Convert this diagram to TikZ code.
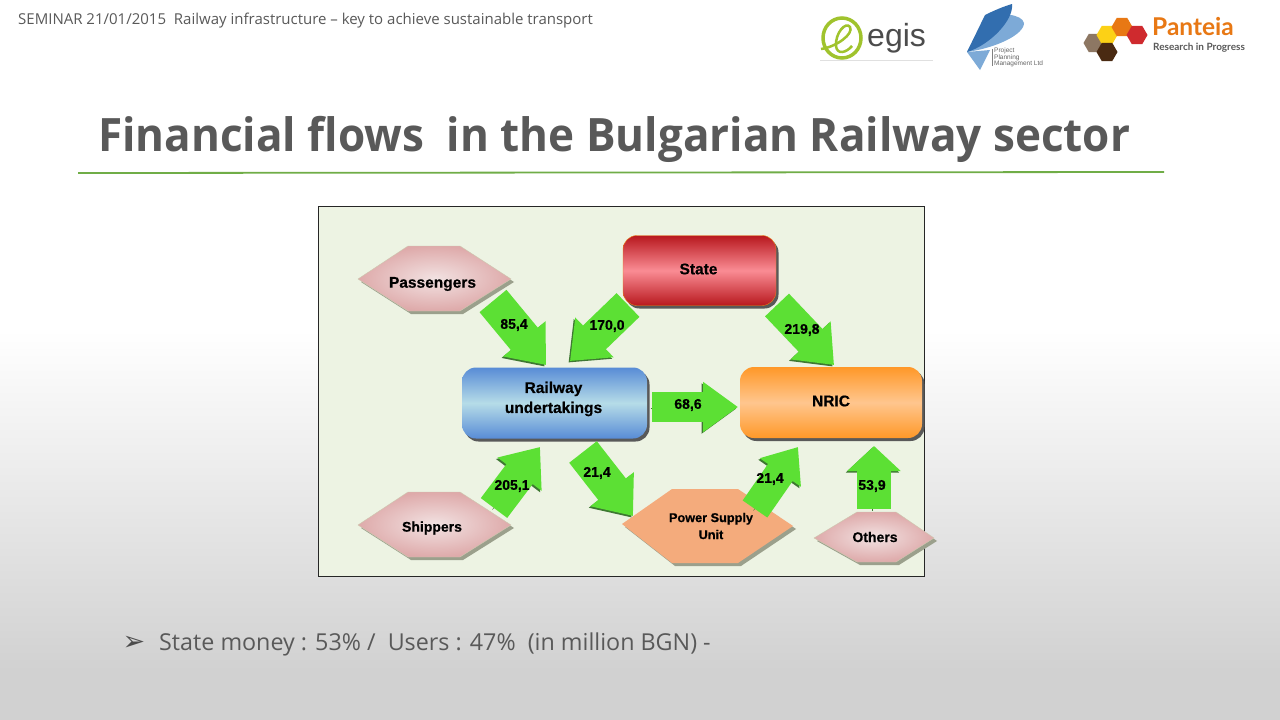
\documentclass[tikz,border=0pt]{standalone}
\usepackage{fontspec}
\setmainfont{Open Sans}
\newfontfamily\titlefont[FakeStretch=0.957]{Open Sans}
\newfontfamily\diagfont[BoldFeatures={FakeBold=0.5}]{Liberation Sans}
\newfontfamily\symfont{DejaVu Sans}
\newfontfamily\logofont{Lato}
\usepackage{xcolor}
\usetikzlibrary{arrows.meta, shadows}
\definecolor{titlegray}{RGB}{89, 89, 89}
\definecolor{rulegreen}{RGB}{112, 173, 71}
\definecolor{panelgreen}{RGB}{237, 243, 227}
\definecolor{flowgreen}{RGB}{92, 224, 52}
\definecolor{flowedge}{RGB}{62, 120, 50}
\definecolor{hexedge}{RGB}{205, 200, 175}
\definecolor{hexshadow}{RGB}{155, 160, 140}
\definecolor{hexinner}{RGB}{242, 226, 226}
\definecolor{hexouter}{RGB}{222, 170, 170}
\definecolor{supplyorange}{RGB}{244, 171, 124}
\definecolor{statedark}{RGB}{184, 24, 30}
\definecolor{statemid}{RGB}{250, 140, 148}
\definecolor{raildark}{RGB}{88, 140, 214}
\definecolor{railmid}{RGB}{182, 220, 232}
\definecolor{nricdark}{RGB}{255, 152, 40}
\definecolor{nricmid}{RGB}{255, 198, 142}
\definecolor{egisgreen}{RGB}{160, 195, 45}
\definecolor{ppmblue}{RGB}{50, 110, 175}
\definecolor{ppmlight}{RGB}{125, 170, 215}
\definecolor{pantorange}{RGB}{232, 120, 20}
\definecolor{pantbrown}{RGB}{141, 119, 99}
\definecolor{pantdark}{RGB}{74, 42, 18}
\definecolor{pantred}{RGB}{207, 42, 46}
\definecolor{pantyellow}{RGB}{252, 209, 22}

\tikzset{
    flow/.style={line width=#1, flowgreen, preaction={draw=flowedge, transform canvas={xshift=-1.5pt, yshift=-1.5pt}}},
    flow/.default=34pt,
    flowtip/.style={-{Triangle[length=34pt, width=53pt]}},
    flowlabel/.style={font=\diagfont\bfseries\fontsize{14}{14}\selectfont, text=black, inner sep=0pt},
    boxlabel/.style={font=\diagfont\bfseries\fontsize{15.5}{20}\selectfont, text=black, inner sep=0pt, align=center},
    hexlabel/.style={font=\diagfont\bfseries\fontsize{14}{14}\selectfont, text=black, inner sep=0pt, align=center},
    roundbox/.style={rectangle, rounded corners=14pt, inner sep=0pt, drop shadow={shadow xshift=2.5pt, shadow yshift=-3pt, fill=black!65, opacity=1}},
    pinkhex/.style={draw=hexedge, inner color=hexinner, outer color=hexouter, preaction={fill=hexshadow, transform canvas={xshift=3pt, yshift=-3pt}}},
}

\begin{document}
\begin{tikzpicture}[x=1pt, y=-1pt]
    \useasboundingbox (0,0) rectangle (1280,720);

    % Slide background
    \fill[white] (0,0) rectangle (1280,331);
    \shade[top color=white, bottom color=black!18] (0,330) rectangle (1280,670);
    \fill[black!18] (0,669.5) rectangle (1280,720);

    % Header and title
    \node[anchor=west, inner sep=0pt, text=titlegray, font=\fontsize{15}{15}\selectfont] (seminar) at (18,20.5) {SEMINAR 21/01/2015\ \ Railway infrastructure -- key to achieve sustainable transport};
    \node[anchor=west, inner sep=0pt, text=titlegray, font=\titlefont\bfseries\fontsize{46}{50}\selectfont] (title) at (98,139) {Financial flows\ \ in the Bulgarian Railway sector};
    \draw[rulegreen, line width=1.8pt] (78,173) -- (1164,172);

    % Logo: egis
    \draw[egisgreen, line width=3.5pt] (842,38) ellipse (19 and 20);
    \draw[egisgreen, line width=2.5pt] (821,49) .. controls (836,47) and (854,34) .. (850,27) .. controls (846,21) and (835,33) .. (836,46) .. controls (837,55) and (846,53) .. (852,46);
    \node[anchor=west, inner sep=0pt, text=black!70, font=\diagfont\fontsize{32}{32}\selectfont] (egis) at (867,38) {egis};
    \draw[black!12] (820,60) -- (933,60);

    % Logo: project planning
    \fill[ppmlight] (967,52) -- (980,70) -- (990,50) -- cycle;
    \fill[ppmlight] (985,17) .. controls (1000,12) and (1022,14) .. (1024,23) .. controls (1024,35) and (995,48) .. (967,52) -- cycle;
    \fill[ppmblue] (967,52) -- (985,15) .. controls (995,10) and (1005,6) .. (1012,4) .. controls (1014,20) and (990,45) .. (967,52) -- cycle;
    \draw[black!50, line width=0.4pt] (992,49) -- (992,66);
    \node[anchor=west, inner sep=0pt, text=black!60, font=\diagfont\fontsize{6.5}{6.5}\selectfont, align=left] (ppm) at (994,57.5) {Project\\Planning\\Management Ltd};

    % Logo: panteia
    \foreach \cx/\cy/\hexcol in {1094/43/pantbrown, 1107/35/pantyellow, 1122/27/pantorange, 1137/35/pantred, 1107/52/pantdark} {
        \fill[\hexcol] (\cx,\cy) +(0:10.5) -- +(60:10.5) -- +(120:10.5) -- +(180:10.5) -- +(240:10.5) -- +(300:10.5) -- cycle;
    }
    \node[anchor=west, inner sep=0pt, text=pantorange, font=\logofont\bfseries\fontsize{24.5}{25}\selectfont] (panteia) at (1152,27) {Panteia};
    \node[anchor=west, inner sep=0pt, text=black!65, font=\logofont\bfseries\fontsize{10}{11}\selectfont] (progress) at (1153,48) {Research in Progress};

    % The panel
    \fill[panelgreen] (318.5,206.5) rectangle (924.5,576);
    \draw[black!85, line width=1pt] (318.5,206.5) rectangle (924.5,576);

    % Hexagons
    \shade[pinkhex] (358,279) -- (408,246) -- (460,246) -- (511,279) -- (460,311) -- (408,311) -- cycle;
    \shade[pinkhex] (358,525) -- (408,492) -- (460,492) -- (511,525) -- (460,557) -- (408,557) -- cycle;
    \fill[hexshadow] (625,527) -- (675,492) -- (741,492) -- (796,529) -- (741,566) -- (675,566) -- cycle;
    \fill[supplyorange] (622,524) -- (672,489) -- (738,489) -- (793,526) -- (738,563) -- (672,563) -- cycle;
    \shade[pinkhex] (814,538) -- (857,512) -- (896,512) -- (934,538) -- (896,562) -- (857,562) -- cycle;

    % Boxes
    \node[roundbox, minimum width=153pt, minimum height=70pt, draw=orange!70!brown, top color=statedark, bottom color=statedark, middle color=statemid] (state) at (699.5,270.5) {};
    \node[roundbox, minimum width=185pt, minimum height=71pt, top color=raildark, bottom color=raildark, middle color=railmid] (railway) at (554.5,403) {};
    \node[roundbox, minimum width=182pt, minimum height=71pt, top color=nricdark, bottom color=nricdark, middle color=nricmid] (nric) at (831,402.5) {};

    % End points of the flows
    \coordinate (passtail) at (493,301);
    \coordinate (passtip) at (546,365);
    \coordinate (statetail) at (628,305);
    \coordinate (statetip) at (570,361);
    \coordinate (nrictail) at (777,305);
    \coordinate (nrictip) at (834,365);
    \coordinate (railtail) at (652,407);
    \coordinate (railtip) at (738,407);
    \coordinate (shiptail) at (494,508);
    \coordinate (shiptip) at (540,447);
    \coordinate (powertail) at (583,452);
    \coordinate (powertip) at (633,516);
    \coordinate (backtail) at (755,509);
    \coordinate (backtip) at (798,447);
    \coordinate (othertail) at (874,509);
    \coordinate (othertip) at (874,446);

    % The flows
    \draw[flow=35pt, flowtip] (passtail) -- (passtip);
    \draw[flow=33pt, flowtip] (statetail) -- (statetip);
    \draw[flow=33pt, flowtip] (nrictail) -- (nrictip);
    \draw[flow=30pt, -{Triangle[length=35pt, width=48pt]}] (railtail) -- (railtip);
    \draw[flow=33pt, flowtip] (shiptail) -- (shiptip);
    \draw[flow=35pt, flowtip] (powertail) -- (powertip);
    \draw[flow=30pt, -{Triangle[length=31pt, width=48pt]}] (backtail) -- (backtip);
    \draw[flow=34pt, -{Triangle[length=25pt, width=52pt]}] (othertail) -- (othertip);

    % Labels
    \node[boxlabel] (passlabel) at (432.5,284) {Passengers};
    \node[boxlabel] (statelabel) at (698.5,269) {State};
    \node[boxlabel] (raillabel) at (553.5,399) {Railway\\undertakings};
    \node[boxlabel] (nriclabel) at (831,401) {NRIC};
    \node[hexlabel] (shiplabel) at (432,528) {Shippers};
    \node[hexlabel, font=\diagfont\bfseries\fontsize{12.7}{17}\selectfont] (powerlabel) at (711,526) {Power Supply\\Unit};
    \node[hexlabel] (otherlabel) at (875,537) {Others};
    \node[flowlabel] (val854) at (514,325) {85,4};
    \node[flowlabel] (val170) at (607,326) {170,0};
    \node[flowlabel] (val219) at (802,330) {219,8};
    \node[flowlabel] (val686) at (688,405) {68,6};
    \node[flowlabel] (val205) at (512,486) {205,1};
    \node[flowlabel] (val214a) at (597,473) {21,4};
    \node[flowlabel] (val214b) at (770,479) {21,4};
    \node[flowlabel] (val539) at (872,486) {53,9};

    % Bottom line
    \node[inner sep=0pt, text=black!70, font=\symfont\fontsize{27}{27}\selectfont] (bullet) at (134,643) {➢};
    \node[anchor=west, inner sep=0pt, text=titlegray, font=\fontsize{23.3}{26}\selectfont] (share) at (159,644) {State money : 53\% /\ \ Users : 47\%\ \ (in million BGN) -};
\end{tikzpicture}
\end{document}
